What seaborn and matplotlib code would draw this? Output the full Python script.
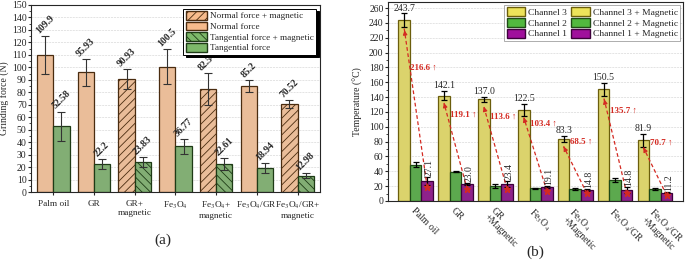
# Grinding force (a) and temperature (b) for the different nanofluids
import numpy as np
import pandas as pd
import matplotlib
matplotlib.use('Agg')
import matplotlib.pyplot as plt
from matplotlib.patches import Patch
from matplotlib.ticker import MultipleLocator
import seaborn as sns

# ---- data for panel (a) ----
fluids_a = ['Palm oil', 'GR', 'GR+\nmagnetic', 'Fe$_3$O$_4$', 'Fe$_3$O$_4$+\nmagnetic',
            'Fe$_3$O$_4$/GR', 'Fe$_3$O$_4$/GR+\nmagnetic']
normal_force = [109.9, 95.93, 90.93, 100.5, 82.54, 85.2, 70.52]
normal_err = [15, 11, 8, 14, 13, 5, 3]
tangential_force = [52.58, 22.2, 23.83, 36.77, 22.61, 18.94, 12.98]
tangential_err = [12, 4, 4, 6, 5, 4, 2]
normal_labels = ['109.9', '95.93', '90.93', '100.5', '82.54', '85.2', '70.52']
tangential_labels = ['52.58', '22.2', '23.83', '36.77', '22.61', '18.94', '12.98']
magnetic_a = [False, False, True, False, True, False, True]

# ---- data for panel (b) ----
fluids_b = ['Palm oil', 'GR', 'GR\n+Magnetic', 'Fe$_3$O$_4$', 'Fe$_3$O$_4$\n+Magnetic',
            'Fe$_3$O$_4$/GR', 'Fe$_3$O$_4$/GR\n+Magnetic']
channel3 = [243.7, 142.1, 137.0, 122.5, 83.3, 150.5, 81.9]
channel3_err = [9, 6, 3, 8, 4, 9, 9]
channel2 = [49.0, 39.5, 20.0, 17.0, 16.0, 28.5, 16.5]
channel2_err = [3, 1, 3, 1, 1, 3, 1.5]
channel1 = [27.1, 23.0, 23.4, 19.1, 14.8, 14.8, 11.2]
channel1_err = [5, 1, 4, 1, 1, 4, 1]

sns.set_style('ticks')
plt.rcParams['font.family'] = ['Liberation Serif', 'DejaVu Serif']
plt.rcParams['mathtext.fontset'] = 'stix'
plt.rcParams['hatch.linewidth'] = 0.6

fig = plt.figure(figsize=(6.85, 2.62), dpi=100)
ax1 = fig.add_axes([0.045, 0.267, 0.422, 0.714])
ax2 = fig.add_axes([0.566, 0.233, 0.431, 0.759])

# ================= panel (a) =================
df_a = pd.DataFrame({
    'Fluid': fluids_a * 2,
    'Force': normal_force + tangential_force,
    'Type': ['Normal'] * len(fluids_a) + ['Tangential'] * len(fluids_a),
})
orange = '#F7BB8C'
green = '#7DB86A'
sns.barplot(data=df_a, x='Fluid', y='Force', hue='Type', order=fluids_a,
            palette={'Normal': orange, 'Tangential': green}, width=0.8,
            linewidth=0.9, legend=False, ax=ax1)

edge_cols = ['#4a2c10', '#1e3b16']
hatches = ['////', '\\\\\\\\']
vals = [normal_force, tangential_force]
errs = [normal_err, tangential_err]
labs = [normal_labels, tangential_labels]
bar_conts = list(ax1.containers)
for k, cont in enumerate(bar_conts):
    xs = []
    for i, bar in enumerate(cont):
        bar.set_edgecolor(edge_cols[k])
        if magnetic_a[i]:
            bar.set_hatch(hatches[k])
        xs.append(bar.get_x() + bar.get_width() / 2)
    ax1.errorbar(xs, vals[k], yerr=errs[k], fmt='none', ecolor='#333333',
                 elinewidth=0.8, capsize=3, capthick=0.8)
    for x, v, e, t in zip(xs, vals[k], errs[k], labs[k]):
        ax1.text(x, v + e + 0.5, t, rotation=45, ha='center', va='bottom',
                 fontsize=7, fontweight='bold')

ax1.set_ylim(0, 150)
ax1.set_xlim(-0.55, 6.55)
ax1.yaxis.set_major_locator(MultipleLocator(10))
ax1.yaxis.set_minor_locator(MultipleLocator(5))
ax1.set_ylabel('Grinding force (N)', fontsize=7)
ax1.yaxis.set_label_coords(-0.075, 0.5)
ax1.set_xlabel('')
ax1.tick_params(axis='y', labelsize=7, length=2, pad=1)
ax1.tick_params(axis='y', which='minor', length=1.2)
ax1.tick_params(axis='x', labelsize=6.7, length=2.5, pad=3)
ax1.grid(axis='y', ls='--', lw=0.4, color='#d0d0d0')
ax1.set_axisbelow(True)
for s in ax1.spines.values():
    s.set_linewidth(0.8)

handles_a = [
    Patch(facecolor=orange, edgecolor=edge_cols[0], hatch='////', label='Normal force + magnetic'),
    Patch(facecolor=orange, edgecolor=edge_cols[0], label='Normal force'),
    Patch(facecolor=green, edgecolor=edge_cols[1], hatch='\\\\\\\\', label='Tangential force + magnetic'),
    Patch(facecolor=green, edgecolor=edge_cols[1], label='Tangential force'),
]
leg = ax1.legend(handles=handles_a, loc='upper right', fontsize=6.6, frameon=True,
                 fancybox=False, shadow={'color': 'black', 'alpha': 1, 'ox': 2, 'oy': -2},
                 edgecolor='black', borderpad=0.25, handlelength=2.3, handleheight=1.1,
                 labelspacing=0.12, handletextpad=0.35, borderaxespad=0.4)
leg.get_frame().set_linewidth(0.7)

# ================= panel (b) =================
df_b = pd.DataFrame({
    'Fluid': fluids_b * 3,
    'Temp': channel3 + channel2 + channel1,
    'Channel': ['Channel 3'] * 7 + ['Channel 2'] * 7 + ['Channel 1'] * 7,
})
yellow = '#EDE35A'
green2 = '#52B83F'
purple = '#A0109C'
pal_b = {'Channel 3': yellow, 'Channel 2': green2, 'Channel 1': purple}
edges_b = ['#6b5e0c', '#1f4a16', '#3d003b']
sns.barplot(data=df_b, x='Fluid', y='Temp', hue='Channel', order=fluids_b,
            hue_order=['Channel 3', 'Channel 2', 'Channel 1'], palette=pal_b,
            width=0.87, linewidth=0.9, legend=False, ax=ax2)

vals_b = [channel3, channel2, channel1]
errs_b = [channel3_err, channel2_err, channel1_err]
xs_b = []
for k, cont in enumerate(list(ax2.containers)):
    xs = []
    for bar in cont:
        bar.set_edgecolor(edges_b[k])
        xs.append(bar.get_x() + bar.get_width() / 2)
    xs_b.append(xs)
for k in range(3):
    ax2.errorbar(xs_b[k], vals_b[k], yerr=errs_b[k], fmt='none', ecolor='black',
                 elinewidth=0.9, capsize=2.5, capthick=0.9)

red = '#D42A22'
for i in range(len(fluids_b)):
    x3, x1 = xs_b[0][i], xs_b[2][i]
    v3, v1 = channel3[i], channel1[i]
    ax2.text(x3, v3 + channel3_err[i] + 1, f'{v3:.1f}', ha='center', va='bottom', fontsize=7)
    ax2.text(x1 + 0.05, v1 + channel1_err[i] + 1.5, f'{v1:.1f}', rotation=90,
             ha='center', va='bottom', fontsize=7)
    # dashed arrow from channel 1 up to channel 3
    ys, ye = v1 * 0.7, v3 - 10
    ax2.plot([x1, x3], [ys, ye], ls='--', color=red, lw=0.9, dashes=(3, 2))
    ax2.plot(x1, ys, marker='*', color=red, ms=4.5, mec=red)
    ax2.annotate('', xy=(x3, ye), xytext=(x3 + (x1 - x3) * 0.06, ye + (ys - ye) * 0.06),
                 arrowprops=dict(arrowstyle='-|>', color=red, lw=0.9, mutation_scale=6))
    ax2.text(x3 + 0.16, 0.62 * v3 + 28, f'{v3 - v1:.1f} \u2191', color=red, fontsize=6.5,
             fontweight='bold', ha='left', va='center', zorder=6)

ax2.set_ylim(0, 268)
ax2.set_xlim(-0.7, 6.7)
ax2.yaxis.set_major_locator(MultipleLocator(20))
ax2.yaxis.set_minor_locator(MultipleLocator(10))
ax2.set_ylabel('Temperature (\u00b0C)', fontsize=7)
ax2.yaxis.set_label_coords(-0.085, 0.5)
ax2.set_xlabel('')
ax2.tick_params(axis='y', labelsize=7, length=2, pad=1)
ax2.tick_params(axis='y', which='minor', length=1.2)
ax2.set_xticks(range(len(fluids_b)))
ax2.set_xticklabels(fluids_b, rotation=-45, ha='left', va='top',
                    rotation_mode='anchor', fontsize=7, linespacing=1.0)
ax2.tick_params(axis='x', length=0, pad=4)
ax2.grid(axis='y', ls='--', lw=0.4, color='#d0d0d0')
ax2.set_axisbelow(True)
for s in ax2.spines.values():
    s.set_linewidth(0.8)

labels_b = ['Channel 3', 'Channel 2', 'Channel 1',
            'Channel 3 + Magnetic', 'Channel 2 + Magnetic', 'Channel 1 + Magnetic']
cols_b = [yellow, green2, purple] * 2
eds_b = edges_b * 2
handles_b = [Patch(facecolor=c, edgecolor=e, label=l) for c, e, l in zip(cols_b, eds_b, labels_b)]
leg2 = ax2.legend(handles=handles_b, loc='upper right', ncol=2, fontsize=6.8, frameon=True,
                  fancybox=False, edgecolor='#888888', borderpad=0.25, handlelength=2.0,
                  handleheight=1.1, labelspacing=0.1, handletextpad=0.3,
                  columnspacing=0.4, borderaxespad=0.3)
leg2.get_frame().set_linewidth(0.6)

fig.text(163 / 685, 1 - 240 / 262, '(a)', fontsize=11, ha='center', va='center')
fig.text(535 / 685, 1 - 252 / 262, '(b)', fontsize=11, ha='center', va='center')

fig.savefig('out.png', dpi=100)
